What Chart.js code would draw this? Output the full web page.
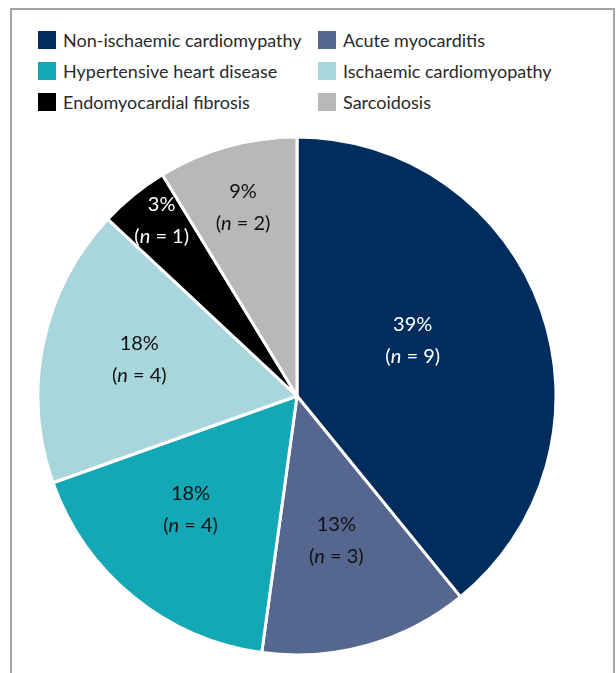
<!DOCTYPE html>
<html>
<head>
<meta charset="utf-8">
<script src="https://cdn.jsdelivr.net/npm/chart.js@4.4.0/dist/chart.umd.min.js"></script>
<style>
  html, body { margin: 0; padding: 0; background: #fff; }
  body { width: 616px; height: 673px; position: relative; overflow: hidden; font-family: Lato, "Open Sans", sans-serif; }
  #frame { position: absolute; left: 10px; top: 8px; width: 605px; height: 700px; border: 2px solid #a4a4a4; box-sizing: border-box; }
  #legend { position: absolute; left: 38px; top: 31px; display: grid; grid-template-columns: 280px auto; row-gap: 13px; }
  .item { display: flex; align-items: center; height: 18px; font-size: 18px; color: #2a2a2a; white-space: nowrap; }
  .sw { width: 18px; height: 18px; margin-right: 7px; flex: none; }
  #wrap { position: absolute; left: 38px; top: 137px; width: 518px; height: 518px; }
</style>
</head>
<body>
<div id="frame"></div>
<div id="legend"></div>
<div id="wrap"><canvas id="c" width="518" height="518"></canvas></div>
<script>
const categories = ["Non-ischaemic cardiomypathy", "Acute myocarditis", "Hypertensive heart disease", "Ischaemic cardiomyopathy", "Endomyocardial fibrosis", "Sarcoidosis"];
const counts = [9, 3, 4, 4, 1, 2];
const percentLabels = ["39%", "13%", "18%", "18%", "3%", "9%"];

const colors = ["#002d5e", "#55678f", "#13a8b5", "#a9d5dc", "#000000", "#b8b8ba"];
const labelColors = ["#ffffff", "#111111", "#111111", "#111111", "#ffffff", "#111111"];
// label placement within each slice: fraction of radius, fraction of slice angle
const labelRadiusFrac = [0.495, 0.58, 0.60, 0.625, 0.857, 0.757];
const labelAngleFrac = [0.458, 0.51, 0.566, 0.52, 0.6, 0.49];

const legend = document.getElementById('legend');
categories.forEach((c, i) => {
  const d = document.createElement('div');
  d.className = 'item';
  const s = document.createElement('span');
  s.className = 'sw';
  s.style.background = colors[i];
  d.appendChild(s);
  d.appendChild(document.createTextNode(c));
  legend.appendChild(d);
});

const sliceLabels = {
  id: 'sliceLabels',
  afterDatasetsDraw(chart) {
    const ctx = chart.ctx;
    const meta = chart.getDatasetMeta(0);
    meta.data.forEach((arc, i) => {
      const p = arc.getProps(['x', 'y', 'startAngle', 'endAngle', 'outerRadius'], true);
      const ang = p.startAngle + (p.endAngle - p.startAngle) * labelAngleFrac[i];
      const r = p.outerRadius * labelRadiusFrac[i];
      const cx = p.x + Math.cos(ang) * r;
      const cy = p.y + Math.sin(ang) * r;
      ctx.save();
      ctx.fillStyle = labelColors[i];
      ctx.textBaseline = 'middle';
      const fs = 20;
      const normal = fs + 'px Lato, "Open Sans", sans-serif';
      const italic = 'italic ' + fs + 'px Lato, "Open Sans", sans-serif';
      ctx.font = normal;
      ctx.textAlign = 'center';
      ctx.fillText(percentLabels[i], cx, cy - 16);
      const parts = [["(", normal], ["n", italic], [" = " + counts[i] + ")", normal]];
      let total = 0;
      parts.forEach(pt => { ctx.font = pt[1]; total += ctx.measureText(pt[0]).width; });
      let x = cx - total / 2;
      ctx.textAlign = 'left';
      parts.forEach(pt => { ctx.font = pt[1]; ctx.fillText(pt[0], x, cy + 16); x += ctx.measureText(pt[0]).width; });
      ctx.restore();
    });
  }
};

new Chart(document.getElementById('c'), {
  type: 'pie',
  data: {
    labels: categories,
    datasets: [{
      data: counts,
      backgroundColor: colors,
      borderColor: '#ffffff',
      borderWidth: 3,
      hoverOffset: 0,
      radius: 259
    }]
  },
  options: {
    responsive: false,
    animation: false,
    events: [],
    layout: { padding: 0 },
    plugins: {
      legend: { display: false },
      tooltip: { enabled: false }
    }
  },
  plugins: [sliceLabels]
});
</script>
</body>
</html>
